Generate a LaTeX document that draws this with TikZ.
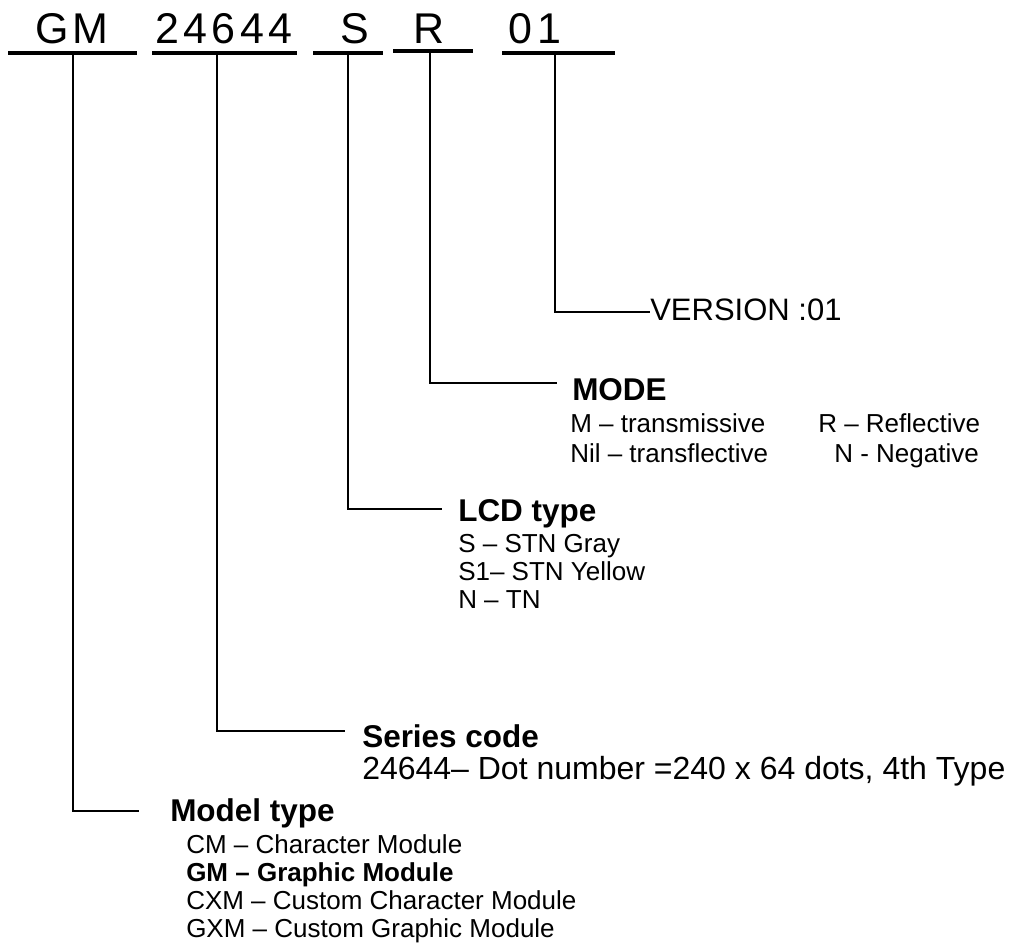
\documentclass[tikz,border=0pt]{standalone}
\usepackage{fontspec}
\setmainfont{Liberation Sans}
\newfontfamily\codefont[LetterSpace=10]{Liberation Sans}
\usepackage{tikz}

\begin{document}
\begin{tikzpicture}[x=0.75pt,y=-0.75pt,
  code/.style={font=\codefont\fontsize{32.25}{36}\selectfont,inner sep=0pt,anchor=base},
  head/.style={font=\bfseries\fontsize{23.6}{28}\selectfont,inner sep=0pt,anchor=base west},
  desc/.style={font=\fontsize{24}{28}\selectfont,inner sep=0pt,anchor=base west},
  item/.style={font=\fontsize{19.5}{22}\selectfont,inner sep=0pt,anchor=base west},
  bar/.style={line width=2.3pt},
  leader/.style={line width=1.9pt,line join=miter}]
  \useasboundingbox (0,0) rectangle (1012,951);

  % part number and its underlines
  \node[code] (pGM)   at (72,43)  {GM};
  \node[code] (pSer)  at (224,43) {24644};
  \node[code] (pLcd)  at (355,43) {S};
  \node[code] (pMode) at (429,43) {R};
  \node[code] (pVer)  at (535,43) {01};
  \foreach \n/\a/\b/\y in {GM/8/137/53, Ser/152/297/53, Lcd/313/383/53, Mode/393/473/51, Ver/502/615/53}{
    \coordinate (u\n a) at (\a,\y);
    \coordinate (u\n b) at (\b,\y);
    \draw[bar] (u\n a) -- (u\n b);
  }

  % leaders down to the fields
  \foreach \n/\x/\y/\ex/\ey in {GM/73/53/139/811, Ser/217/53/345/731, Lcd/348/53/442/509, Mode/430/51/557/383, Ver/555/53/650/312}{
    \coordinate (t\n) at (\x,\y);
    \coordinate (e\n) at (\ex,\ey);
    \draw[leader] (t\n) |- (e\n);
  }

  % version
  \node[desc,font=\fontsize{23.25}{28}\selectfont] (ver) at (650,320) {VERSION :01};

  % mode
  \node[head] (mode) at (572,400) {MODE};
  \node[item] (modeM) at (570,432) {M -- transmissive};
  \node[item] (modeNil) at (570,462) {Nil -- transflective};
  \node[item] (modeR) at (818,432) {R -- Reflective};
  \node[item] (modeN) at (834,462) {N - Negative};

  % lcd type
  \node[head] (lcd) at (458,521) {LCD type};
  \node[item] (lcdS) at (458,552) {S -- STN Gray};
  \node[item] (lcdSone) at (458,580) {S1-- STN Yellow};
  \node[item] (lcdN) at (458,608) {N -- TN};

  % series code
  \node[head] (ser) at (362,747) {Series code};
  \node[desc] (serD) at (362,779) {24644-- Dot number =240 x 64 dots, 4th Type};

  % model type
  \node[head] (model) at (170,821) {Model type};
  \node[item] (modCM) at (186,853) {CM -- Character Module};
  \node[item,font=\bfseries\fontsize{19.5}{22}\selectfont] (modGM) at (186,881) {GM -- Graphic Module};
  \node[item] (modCXM) at (186,909) {CXM -- Custom Character Module};
  \node[item] (modGXM) at (186,937) {GXM -- Custom Graphic Module};
\end{tikzpicture}
\end{document}
